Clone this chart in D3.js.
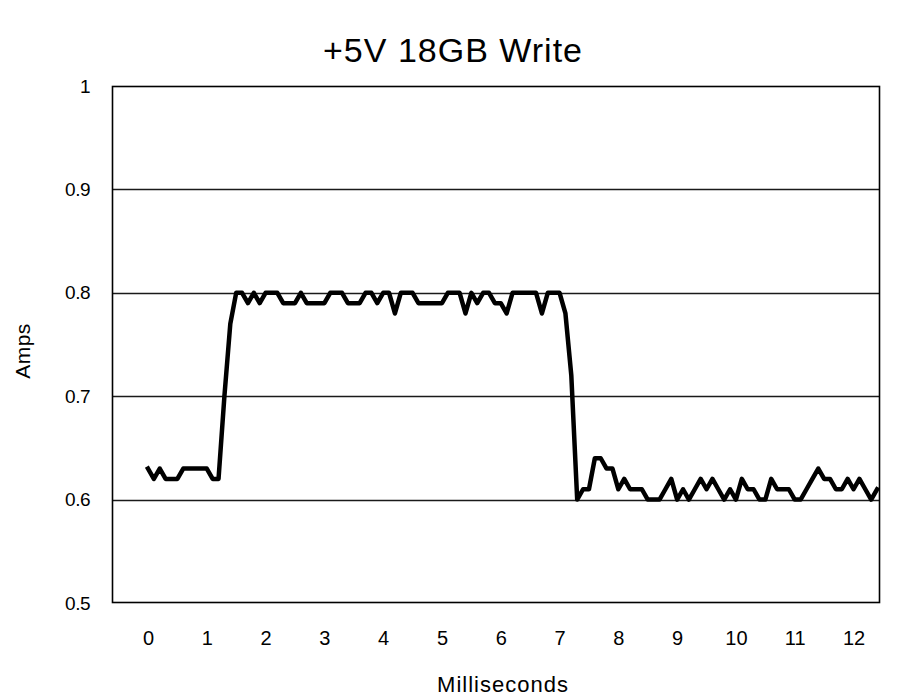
<!DOCTYPE html>
<html>
<head>
<meta charset="utf-8">
<script src="https://cdn.jsdelivr.net/npm/d3@7"></script>
<style>
  html, body { margin: 0; padding: 0; background: #fff; }
  svg { display: block; }
  text { font-family: "Liberation Sans", Arial, sans-serif; fill: #000; }
</style>
</head>
<body>
<svg id="chart" width="906" height="698"></svg>
<script>
// ---- data ----
const chartTitle = "+5V 18GB Write";
const xAxisTitle = "Milliseconds";
const yAxisTitle = "Amps";
const timesMs = [
  0.0,0.1,0.2,0.3,0.4,0.5,0.6,0.7,0.8,0.9,
  1.0,1.1,1.2,1.3,1.4,1.5,1.6,1.7,1.8,1.9,
  2.0,2.1,2.2,2.3,2.4,2.5,2.6,2.7,2.8,2.9,
  3.0,3.1,3.2,3.3,3.4,3.5,3.6,3.7,3.8,3.9,
  4.0,4.1,4.2,4.3,4.4,4.5,4.6,4.7,4.8,4.9,
  5.0,5.1,5.2,5.3,5.4,5.5,5.6,5.7,5.8,5.9,
  6.0,6.1,6.2,6.3,6.4,6.5,6.6,6.7,6.8,6.9,
  7.0,7.1,7.2,7.3,7.4,7.5,7.6,7.7,7.8,7.9,
  8.0,8.1,8.2,8.3,8.4,8.5,8.6,8.7,8.8,8.9,
  9.0,9.1,9.2,9.3,9.4,9.5,9.6,9.7,9.8,9.9,
  10.0,10.1,10.2,10.3,10.4,10.5,10.6,10.7,10.8,10.9,
  11.0,11.1,11.2,11.3,11.4,11.5,11.6,11.7,11.8,11.9,
  12.0,12.1,12.2,12.3,12.4
];
const amps = [
  0.63,0.62,0.63,0.62,0.62,0.62,0.63,0.63,0.63,0.63,
  0.63,0.62,0.62,0.70,0.77,0.80,0.80,0.79,0.80,0.79,
  0.80,0.80,0.80,0.79,0.79,0.79,0.80,0.79,0.79,0.79,
  0.79,0.80,0.80,0.80,0.79,0.79,0.79,0.80,0.80,0.79,
  0.80,0.80,0.78,0.80,0.80,0.80,0.79,0.79,0.79,0.79,
  0.79,0.80,0.80,0.80,0.78,0.80,0.79,0.80,0.80,0.79,
  0.79,0.78,0.80,0.80,0.80,0.80,0.80,0.78,0.80,0.80,
  0.80,0.78,0.72,0.60,0.61,0.61,0.64,0.64,0.63,0.63,
  0.61,0.62,0.61,0.61,0.61,0.60,0.60,0.60,0.61,0.62,
  0.60,0.61,0.60,0.61,0.62,0.61,0.62,0.61,0.60,0.61,
  0.60,0.62,0.61,0.61,0.60,0.60,0.62,0.61,0.61,0.61,
  0.60,0.60,0.61,0.62,0.63,0.62,0.62,0.61,0.61,0.62,
  0.61,0.62,0.61,0.60,0.61
];
const xTickValues = [0,1,2,3,4,5,6,7,8,9,10,11,12];
const yTickValues = [0.5,0.6,0.7,0.8,0.9,1.0];
const yTickLabels = ["0.5","0.6","0.7","0.8","0.9","1"];
const yGridValues = [0.6,0.7,0.8,0.9];

// ---- layout ----
const margin = {left: 112, top: 86, right: 26, bottom: 95};
const W = 906, H = 698;
const pw = W - margin.left - margin.right;
const ph = H - margin.top - margin.bottom;

const svg = d3.select("#chart");
const g = svg.append("g").attr("transform", `translate(${margin.left},${margin.top})`);

const x = d3.scaleLinear().domain([-0.612, 12.45]).range([0, pw]);
const y = d3.scaleLinear().domain([0.5, 1.0]).range([ph, 0]);

// gridlines
g.selectAll("line.grid").data(yGridValues).enter().append("line")
  .attr("class", "grid")
  .attr("x1", 0).attr("x2", pw)
  .attr("y1", d => Math.round(y(d)) + 0.5).attr("y2", d => Math.round(y(d)) + 0.5)
  .attr("stroke", "#1a1a1a").attr("stroke-width", 1.6);

// plot frame
g.append("rect").attr("x", 0.5).attr("y", 0.5).attr("width", pw - 1).attr("height", ph - 1)
  .attr("fill", "none").attr("stroke", "#000").attr("stroke-width", 1.6);

// y axis labels
const yAxis = d3.axisLeft(y).tickValues(yTickValues)
  .tickFormat((d, i) => yTickLabels[i]).tickSize(0).tickPadding(22);
const yg = g.append("g").call(yAxis);
yg.select(".domain").remove();
yg.selectAll("text").style("font-size", "19px").style("letter-spacing", "-0.5px")
  .style("font-family", '"Liberation Sans", Arial, sans-serif').attr("fill", "#000");

// x axis labels
const xAxis = d3.axisBottom(x).tickValues(xTickValues).tickFormat(d3.format("d"))
  .tickSize(0).tickPadding(28);
const xg = g.append("g").attr("transform", `translate(0,${ph})`).call(xAxis);
xg.select(".domain").remove();
xg.selectAll("text").style("font-size", "20px")
  .style("font-family", '"Liberation Sans", Arial, sans-serif').attr("fill", "#000");

// data line
const line = d3.line().x((d, i) => x(timesMs[i])).y(d => y(d));
g.append("path").datum(amps)
  .attr("d", line)
  .attr("fill", "none").attr("stroke", "#000")
  .attr("stroke-width", 4.5).attr("stroke-linejoin", "round").attr("stroke-linecap", "square");

// titles
svg.append("text").attr("x", 453).attr("y", 62).attr("text-anchor", "middle")
  .style("font-size", "34px").style("letter-spacing", "1px").text(chartTitle);
svg.append("text").attr("x", 503).attr("y", 692).attr("text-anchor", "middle")
  .style("font-size", "22px").style("letter-spacing", "1px").text(xAxisTitle);
svg.append("text").attr("transform", "translate(30,351) rotate(-90)").attr("text-anchor", "middle")
  .style("font-size", "21px").style("letter-spacing", "0.5px").text(yAxisTitle);
</script>
</body>
</html>
